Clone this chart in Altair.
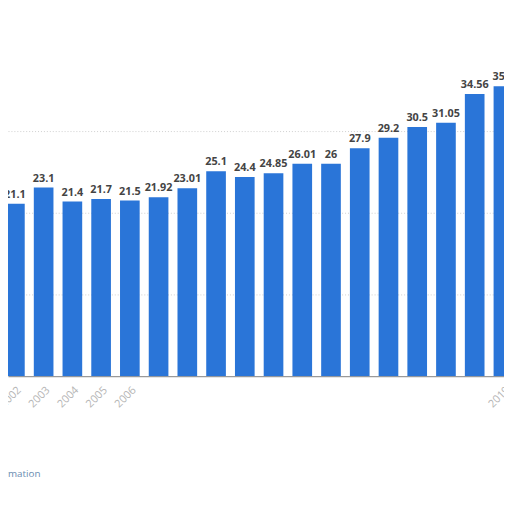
import altair as alt
import pandas as pd

years = [2002, 2003, 2004, 2005, 2006, 2007, 2008, 2009, 2010, 2011,
         2012, 2013, 2014, 2015, 2016, 2017, 2018, 2019]
values = [21.1, 23.1, 21.4, 21.7, 21.5, 21.92, 23.01, 25.1, 24.4, 24.85,
          26.01, 26, 27.9, 29.2, 30.5, 31.05, 34.56, 35.5]
labels = ["21.1", "23.1", "21.4", "21.7", "21.5", "21.92", "23.01", "25.1", "24.4", "24.85",
          "26.01", "26", "27.9", "29.2", "30.5", "31.05", "34.56", "35.5"]

df = pd.DataFrame({"year": years, "value": values, "label": labels})

xscale = alt.Scale(domain=[2001.76, 2019.02], nice=False, zero=False)
yscale = alt.Scale(domain=[0, 44.6], nice=False)

xaxis = alt.Axis(values=years, format="d", title=None, labelAngle=-45,
                 labelColor="#b5b5b5", labelFontSize=11, labelFont="Open Sans",
                 labelExpr="(datum.value <= 2006 || datum.value == 2019) ? datum.label : ''",
                 labelOverlap=False, labelBound=False,
                 ticks=False, grid=False, domainColor="#9a9a9a", domainWidth=1.5,
                 labelPadding=8)
yaxis = alt.Axis(values=[10, 20, 30], grid=True, gridDash=[1, 2], gridColor="#cfcfcf",
                 labels=False, ticks=False, domain=False, title=None)

base = alt.Chart(df).transform_calculate(
    x0="datum.year - 0.342", x1="datum.year + 0.342"
)

bars = base.mark_bar(color="#2a75d8", clip=True).encode(
    x=alt.X("x0:Q", scale=xscale, axis=xaxis),
    x2="x1:Q",
    y=alt.Y("value:Q", scale=yscale, axis=yaxis),
    y2=alt.datum(0),
)

text = alt.Chart(df).mark_text(
    dy=-9, fontWeight="bold", fontSize=11, color="#444444", font="Open Sans", clip=True
).encode(
    x=alt.X("year:Q", scale=xscale, axis=xaxis),
    y=alt.Y("value:Q", scale=yscale, axis=yaxis),
    text="label:N",
)

info = alt.Chart(pd.DataFrame({"t": ["Additional Information"]})).mark_text(
    align="right", fontSize=10, color="#6a8bb0", font="Open Sans"
).encode(x=alt.value(33), y=alt.value(470), text="t:N")

chart = alt.layer(bars, text, info).properties(
    width=504, height=370,
    autosize=alt.AutoSizeParams(type="none"),
    padding={"left": 0, "top": 0, "right": 0, "bottom": 134},
).configure_view(stroke=None)

chart.save("out.html", embed_options={"renderer": "svg", "actions": False})
